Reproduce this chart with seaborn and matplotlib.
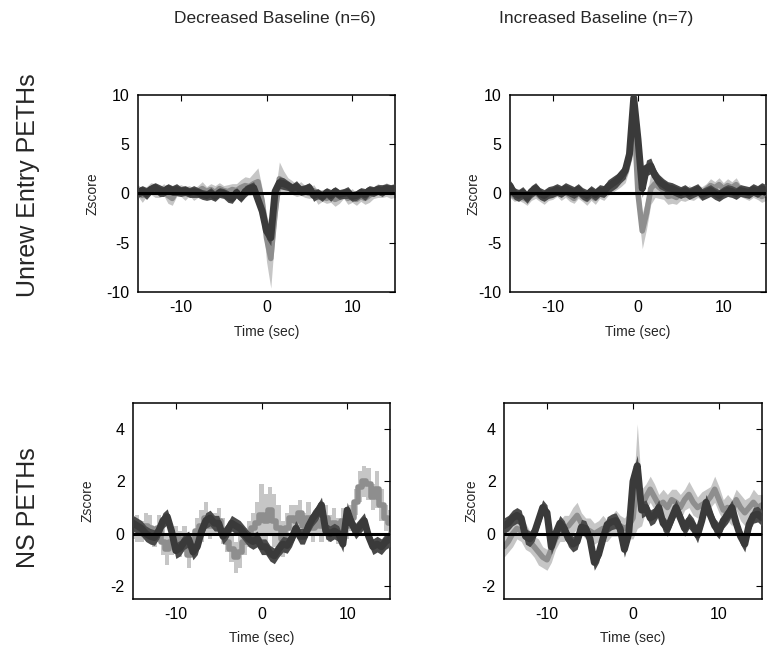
import numpy as np
import pandas as pd
import matplotlib
matplotlib.use("Agg")
import matplotlib.pyplot as plt
import seaborn as sns

sns.set_theme(style="white")
plt.rcParams['font.family'] = ['Liberation Sans', 'DejaVu Sans']
plt.rcParams['axes.unicode_minus'] = False

# ---------------- data ----------------
col_titles = ["Decreased Baseline (n=6)", "Increased Baseline (n=7)"]
row_titles = ["Unrew Entry PETHs", "NS PETHs"]
x_label = "Time (sec)"
y_label = "Zscore"

time = np.linspace(-15, 15, 61)  # 0.5 s bins

# Unrewarded entry, decreased-baseline group
ue_dec_light = [0.3, -0.2, 0.2, 0.5, 0.3, 0.1, 0.4, -0.2, -0.5, 0.2,
                0.3, 0.0, 0.3, -0.1, 0.2, 0.5, 0.2, 0.4, 0.1, 0.5,
                0.3, 0.2, 0.4, 0.3, 0.6, 0.8, 0.7, 1.0, 1.2, -0.8,
                -4.5, -6.6, -2.0, 1.5, 1.2, 0.8, 0.6, 0.3, 0.5, 0.2,
                0.0, 0.3, -0.4, -0.2, -0.5, -0.3, -0.6, -0.4, 0.0, -0.5,
                -0.2, -0.6, -0.3, -0.5, -0.2, 0.1, 0.3, 0.2, 0.4, 0.1, 0.2]
ue_dec_light_sem = [0.6, 0.7, 0.5, 0.6, 0.7, 0.5, 0.6, 0.8, 0.7, 0.5,
                    0.6, 0.7, 0.5, 0.6, 0.6, 0.7, 0.5, 0.6, 0.7, 0.6,
                    0.5, 0.7, 0.6, 0.7, 0.8, 0.9, 0.9, 1.1, 1.4, 1.3,
                    2.4, 3.0, 2.0, 1.7, 1.1, 0.8, 0.7, 0.6, 0.7, 0.6,
                    0.5, 0.6, 0.7, 0.6, 0.5, 0.6, 0.7, 0.6, 0.5, 0.6,
                    0.7, 0.6, 0.5, 0.6, 0.7, 0.6, 0.7, 0.6, 0.7, 0.6, 0.6]
ue_dec_dark = [0.1, 0.3, 0.0, 0.4, 0.6, 0.3, 0.2, 0.5, 0.3, 0.4,
               0.2, 0.3, 0.1, 0.2, 0.1, -0.1, -0.2, 0.0, -0.3, 0.1,
               0.0, -0.3, -0.5, 0.1, -0.4, 0.2, 0.5, 0.6, -0.6, -1.8,
               -3.8, -4.5, 0.2, 1.1, 1.0, 0.8, 0.5, 0.7, 0.3, 0.4,
               0.6, -0.2, 0.0, -0.3, 0.1, -0.2, 0.2, -0.1, 0.0, 0.1,
               -0.3, -0.2, 0.1, -0.1, 0.3, 0.2, 0.4, 0.3, 0.5, 0.4, 0.5]
ue_dec_dark_sem = [0.5, 0.5, 0.6, 0.5, 0.5, 0.6, 0.5, 0.5, 0.5, 0.6,
                   0.5, 0.5, 0.5, 0.6, 0.5, 0.5, 0.5, 0.6, 0.5, 0.5,
                   0.5, 0.6, 0.5, 0.5, 0.5, 0.6, 0.5, 0.6, 0.6, 0.7,
                   0.8, 0.8, 0.7, 0.6, 0.6, 0.5, 0.5, 0.6, 0.5, 0.5,
                   0.5, 0.6, 0.5, 0.5, 0.5, 0.6, 0.5, 0.5, 0.5, 0.6,
                   0.5, 0.5, 0.5, 0.6, 0.5, 0.5, 0.5, 0.6, 0.5, 0.5, 0.5]

# Unrewarded entry, increased-baseline group
ue_inc_light = [0.2, -0.3, -0.1, -0.4, -0.6, -0.2, 0.1, -0.3, -0.5, -0.2,
                0.0, 0.2, -0.1, 0.1, -0.2, -0.5, 0.1, -0.3, -0.6, -0.2,
                -0.5, 0.0, -0.1, 0.4, 0.8, 1.1, 1.5, 2.0, 3.5, 8.5,
                0.0, -3.8, -2.0, 0.5, 1.0, 0.6, 0.3, -0.3, -0.2, -0.4,
                0.0, -0.2, 0.1, -0.1, 0.2, 0.0, 0.4, 0.8, 0.6, 0.9,
                0.5, 0.8, 0.6, 0.9, 0.3, 0.1, -0.1, 0.2, 0.0, -0.3, -0.1]
ue_inc_light_sem = [0.6, 0.5, 0.6, 0.5, 0.6, 0.5, 0.6, 0.5, 0.6, 0.5,
                    0.6, 0.5, 0.6, 0.5, 0.6, 0.5, 0.6, 0.5, 0.6, 0.5,
                    0.6, 0.5, 0.6, 0.6, 0.7, 0.7, 0.8, 0.9, 1.0, 1.2,
                    1.5, 1.8, 1.6, 1.6, 1.4, 1.1, 0.9, 0.8, 0.8, 0.7,
                    0.7, 0.6, 0.7, 0.6, 0.6, 0.7, 0.6, 0.7, 0.6, 0.7,
                    0.6, 0.7, 0.6, 0.7, 0.6, 0.6, 0.6, 0.6, 0.6, 0.6, 0.6]
ue_inc_dark = [0.8, 0.0, -0.2, 0.1, -0.4, 0.2, 0.5, 0.0, -0.2, 0.1,
               0.2, 0.4, 0.2, 0.5, 0.3, 0.1, 0.4, 0.0, -0.2, 0.2,
               -0.1, 0.3, 0.2, 0.7, 1.0, 1.3, 1.8, 2.3, 4.0, 9.7,
               5.5, 0.5, 2.6, 2.8, 1.8, 1.2, 0.9, 0.6, 0.5, 0.3,
               0.1, 0.3, 0.0, 0.2, 0.4, -0.1, 0.1, 0.3, 0.0, -0.2,
               0.1, 0.3, 0.2, 0.0, 0.3, 0.2, 0.1, 0.4, 0.2, 0.5, 0.3]
ue_inc_dark_sem = [0.6, 0.6, 0.6, 0.6, 0.6, 0.6, 0.6, 0.6, 0.6, 0.6,
                   0.6, 0.6, 0.6, 0.6, 0.6, 0.6, 0.6, 0.6, 0.6, 0.6,
                   0.6, 0.6, 0.6, 0.7, 0.7, 0.7, 0.7, 0.8, 0.9, 1.0,
                   1.0, 0.9, 0.8, 0.8, 0.7, 0.7, 0.6, 0.6, 0.6, 0.6,
                   0.6, 0.6, 0.6, 0.6, 0.6, 0.6, 0.6, 0.6, 0.6, 0.6,
                   0.6, 0.6, 0.6, 0.6, 0.6, 0.6, 0.6, 0.6, 0.6, 0.6, 0.6]

# Non-specific, decreased-baseline group
ns_dec_light = [0.2, 0.2, 0.1, 0.3, 0.2, -0.1, 0.2, -0.3, -0.6, -0.3,
                -0.1, -0.4, -0.2, -0.8, -0.4, 0.1, 0.3, 0.6, 0.3, 0.4,
                0.5, 0.1, -0.3, -0.6, -0.9, -0.7, -0.3, 0.0, 0.2, 0.4,
                0.7, 0.5, 0.9, 0.5, 0.2, -0.2, 0.2, 0.6, 0.5, 0.8,
                0.3, 0.6, 0.2, 0.5, 0.3, 0.6, 0.2, 0.4, 0.1, 0.5,
                0.3, 0.6, 1.2, 1.8, 2.0, 1.9, 1.4, 1.7, 1.1, 0.6, 0.4]
ns_dec_light_sem = [0.4, 0.5, 0.4, 0.5, 0.5, 0.4, 0.5, 0.5, 0.6, 0.5,
                    0.4, 0.5, 0.5, 0.5, 0.4, 0.5, 0.6, 0.6, 0.5, 0.4,
                    0.5, 0.5, 0.4, 0.5, 0.6, 0.6, 0.5, 0.5, 0.6, 0.8,
                    1.2, 1.0, 0.9, 1.0, 0.9, 0.7, 0.6, 0.5, 0.6, 0.5,
                    0.5, 0.6, 0.5, 0.5, 0.6, 0.5, 0.5, 0.6, 0.5, 0.5,
                    0.5, 0.5, 0.5, 0.6, 0.6, 0.6, 0.5, 0.7, 0.6, 0.5, 0.5]
ns_dec_dark = [0.4, 0.3, 0.2, 0.0, -0.1, -0.15, 0.1, 0.5, 0.65, 0.1,
               -0.65, -0.55, -0.3, -0.2, -0.7, -0.5, 0.1, 0.5, 0.6, 0.4,
               0.4, -0.1, 0.1, 0.4, 0.3, 0.2, 0.0, -0.2, -0.3, -0.2,
               -0.5, -0.5, -0.75, -0.85, -0.6, -0.4, -0.45, -0.2, 0.2, -0.1,
               -0.1, 0.3, 0.6, 0.8, 1.1, 0.1, 0.0, 0.1, 0.0, -0.4,
               0.9, 0.4, 0.1, 0.3, 0.5, -0.1, -0.5, -0.4, -0.5, -0.3, -0.2]
ns_dec_dark_sem = [0.3, 0.3, 0.3, 0.3, 0.3, 0.3, 0.3, 0.3, 0.3, 0.3,
                   0.3, 0.3, 0.3, 0.3, 0.3, 0.3, 0.3, 0.3, 0.3, 0.3,
                   0.3, 0.3, 0.3, 0.3, 0.3, 0.3, 0.3, 0.3, 0.3, 0.3,
                   0.3, 0.3, 0.3, 0.3, 0.3, 0.3, 0.3, 0.3, 0.3, 0.3,
                   0.3, 0.3, 0.3, 0.3, 0.3, 0.3, 0.3, 0.3, 0.3, 0.3,
                   0.3, 0.3, 0.3, 0.3, 0.3, 0.3, 0.3, 0.3, 0.3, 0.3, 0.3]

# Non-specific, increased-baseline group
ns_inc_light = [-0.5, -0.3, 0.0, 0.2, 0.1, -0.1, -0.3, -0.5, -0.7, -0.9,
                -1.0, -0.6, -0.2, 0.1, 0.2, 0.3, 0.5, 0.7, 0.4, 0.2,
                0.1, 0.0, 0.1, 0.2, 0.1, 0.3, 0.4, 0.3, 0.2, 0.3,
                0.6, 2.2, 1.0, 1.4, 1.7, 1.4, 1.1, 1.2, 1.0, 1.3,
                1.2, 1.0, 1.3, 1.5, 1.2, 1.0, 1.1, 1.2, 1.4, 1.7,
                1.3, 0.9, 1.0, 0.8, 1.3, 1.0, 0.8, 1.0, 1.2, 1.0, 1.1]
ns_inc_light_sem = [0.4, 0.4, 0.5, 0.4, 0.4, 0.5, 0.4, 0.4, 0.5, 0.4,
                    0.4, 0.5, 0.4, 0.4, 0.5, 0.4, 0.5, 0.5, 0.4, 0.4,
                    0.5, 0.4, 0.4, 0.5, 0.4, 0.4, 0.5, 0.4, 0.4, 0.5,
                    0.8, 2.0, 0.7, 0.5, 0.5, 0.5, 0.4, 0.5, 0.5, 0.4,
                    0.5, 0.5, 0.4, 0.5, 0.5, 0.4, 0.5, 0.5, 0.4, 0.5,
                    0.5, 0.4, 0.5, 0.5, 0.4, 0.5, 0.5, 0.4, 0.5, 0.5, 0.4]
ns_inc_dark = [0.3, 0.4, 0.6, 0.7, 0.6, -0.1, -0.2, 0.0, 0.5, 1.0,
               0.8, -0.5, 0.0, 0.4, 0.2, -0.2, -0.4, -0.3, 0.25, 0.2,
               -0.2, -1.1, -0.8, -0.2, 0.35, 0.45, 0.5, 0.2, -0.6, 0.0,
               2.0, 2.6, 0.9, 1.0, 0.6, 0.7, 1.0, 0.4, 0.2, 0.6,
               1.0, 0.6, 0.2, 0.5, 0.3, -0.05, 0.5, 1.2, 0.7, 0.3,
               0.1, 0.5, 0.7, 1.0, 0.4, -0.1, -0.4, 0.35, 0.7, 0.75, 0.6]
ns_inc_dark_sem = [0.3, 0.3, 0.3, 0.3, 0.3, 0.3, 0.3, 0.3, 0.3, 0.3,
                   0.3, 0.3, 0.3, 0.3, 0.3, 0.3, 0.3, 0.3, 0.3, 0.3,
                   0.3, 0.3, 0.3, 0.3, 0.3, 0.3, 0.3, 0.3, 0.3, 0.3,
                   0.4, 0.4, 0.3, 0.3, 0.3, 0.3, 0.3, 0.3, 0.3, 0.3,
                   0.3, 0.3, 0.3, 0.3, 0.3, 0.3, 0.3, 0.3, 0.3, 0.3,
                   0.3, 0.3, 0.3, 0.3, 0.3, 0.3, 0.3, 0.3, 0.3, 0.3, 0.3]

top_yticks = [-10, -5, 0, 5, 10]
bot_yticks = [-2, 0, 2, 4]
xticks = [-10, 0, 10]

# ---------------- style ----------------
LIGHT_BAND = "#c6c6c6"
LIGHT_LINE = "#8e8e8e"
DARK_BAND = "#4a4a4a"
DARK_LINE = "#3a3a3a"

W, H = 767, 649
fig = plt.figure(figsize=(W / 100, H / 100), dpi=100)


def rect(x0, y0, x1, y1):
    return [x0 / W, 1 - y1 / H, (x1 - x0) / W, (y1 - y0) / H]


def panel(box, lm, ls, dm, ds, ylim, yticks, ylab_x, steps=False):
    ax = fig.add_axes(rect(*box))
    lm, ls, dm, ds = map(np.asarray, (lm, ls, dm, ds))
    df = pd.DataFrame({"t": time, "light": lm, "dark": dm})
    ax.fill_between(time, lm - ls, lm + ls, color=LIGHT_BAND, lw=0,
                    step="mid" if steps else None, zorder=1)
    sns.lineplot(data=df, x="t", y="light", ax=ax, color=LIGHT_LINE, lw=4,
                 drawstyle="steps-mid" if steps else "default", zorder=2)
    ax.fill_between(time, dm - ds, dm + ds, color=DARK_BAND, lw=0, zorder=3)
    sns.lineplot(data=df, x="t", y="dark", ax=ax, color=DARK_LINE, lw=5, zorder=4)
    ax.axhline(0, color="black", lw=2.2, zorder=5)
    ax.set_xlim(-15, 15)
    ax.set_ylim(*ylim)
    ax.set_xticks(xticks)
    ax.set_yticks(yticks)
    ax.tick_params(direction="in", top=True, right=True, length=4, width=0.8,
                   colors="black", labelsize=11.5, pad=6)
    for s in ax.spines.values():
        s.set_visible(True)
        s.set_color("black")
        s.set_linewidth(1.1)
    ax.set_xlabel(x_label, fontsize=10)
    ax.set_ylabel(y_label, fontsize=10)
    ax.xaxis.set_label_coords(0.5, -0.165)
    ax.yaxis.set_label_coords(ylab_x, 0.5)
    return ax


panel((138, 95, 395, 292), ue_dec_light, ue_dec_light_sem, ue_dec_dark, ue_dec_dark_sem,
      (-10, 10), top_yticks, -0.15)
panel((510, 95, 766, 292), ue_inc_light, ue_inc_light_sem, ue_inc_dark, ue_inc_dark_sem,
      (-10, 10), top_yticks, -0.115)
panel((133, 403, 390, 599), ns_dec_light, ns_dec_light_sem, ns_dec_dark, ns_dec_dark_sem,
      (-2.5, 5), bot_yticks, -0.15, steps=True)
panel((504, 403, 762, 599), ns_inc_light, ns_inc_light_sem, ns_inc_dark, ns_inc_dark_sem,
      (-2.5, 5), bot_yticks, -0.10)

fig.text(275 / W, 1 - 18 / H, col_titles[0], ha="center", va="center", fontsize=12.5)
fig.text(596 / W, 1 - 18 / H, col_titles[1], ha="center", va="center", fontsize=12.5)
fig.text(28 / W, 1 - 185 / H, row_titles[0], ha="center", va="center", rotation=90, fontsize=18)
fig.text(28 / W, 1 - 508 / H, row_titles[1], ha="center", va="center", rotation=90, fontsize=18)

fig.savefig("out.png", dpi=100)
